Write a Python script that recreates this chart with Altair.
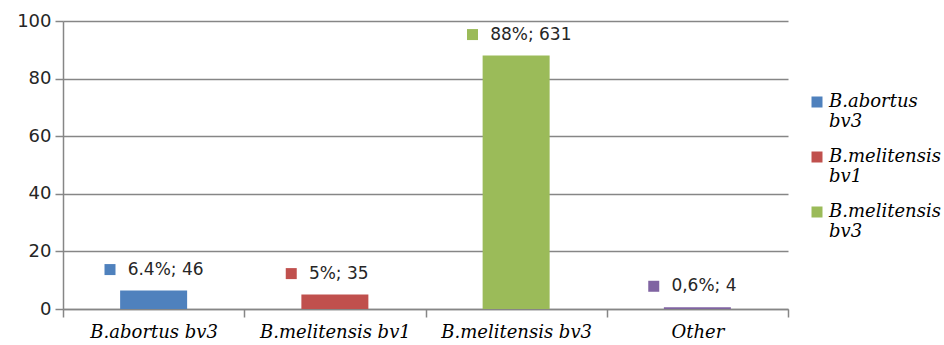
import altair as alt
import pandas as pd

categories = ["B.abortus bv3", "B.melitensis bv1", "B.melitensis bv3", "Other"]
values = [6.4, 5, 88, 0.6]
label_text = ["6.4%; 46", "5%; 35", "88%; 631", "0,6%; 4"]
colors = ["#4F81BD", "#C0504D", "#9BBB59", "#8064A2"]
y_ticks = [0, 20, 40, 60, 80, 100]

SERIF = "DejaVu Serif"

df = pd.DataFrame({"category": categories, "value": values, "label": label_text})

x_enc = alt.X("category:N", sort=categories,
              scale=alt.Scale(paddingInner=0, paddingOuter=0),
              axis=alt.Axis(title=None, labelAngle=0, tickBand="extent",
                            labelFont=SERIF, labelFontStyle="italic",
                            labelFontSize=18, labelColor="#000000", labelPadding=6,
                            tickSize=8, tickColor="#868686", domainColor="#868686",
                            domainWidth=1.5, tickWidth=1.5, grid=False))
y_enc = alt.Y("value:Q", scale=alt.Scale(domain=[0, 100], nice=False),
              axis=alt.Axis(title=None, values=y_ticks, labelFont="DejaVu Sans",
                            labelFontSize=18, labelColor="#262626", tickSize=8,
                            labelPadding=4, tickColor="#868686", domainColor="#868686",
                            domainWidth=1.5, tickWidth=1.5, gridColor="#868686",
                            gridWidth=1.5))
color_enc = alt.Color("category:N", sort=categories,
                      scale=alt.Scale(domain=categories, range=colors),
                      legend=alt.Legend(title=None, values=categories[:3],
                                        orient="none", legendX=745, legendY=72,
                                        symbolType="square", symbolSize=121,
                                        symbolStrokeWidth=0,
                                        labelFont=SERIF,
                                        labelFontStyle="italic", labelFontSize=18,
                                        labelColor="#000000", labelOffset=3,
                                        labelExpr="split(datum.label, ' ')",
                                        rowPadding=17, labelLimit=200, padding=0))

base = alt.Chart(df)
bars = base.mark_bar(size=67).encode(x=x_enc, y=y_enc, color=color_enc)
keys = base.mark_square(size=121, opacity=1).encode(
    x=x_enc, y=y_enc, color=color_enc,
    xOffset=alt.value(47), yOffset=alt.value(-21))
texts = base.mark_text(align="left", baseline="middle", dx=-26, dy=-21,
                       font="DejaVu Sans", fontSize=17, color="#262626").encode(
    x=x_enc, y=y_enc, text="label:N")

chart = alt.layer(bars, keys, texts).properties(
    width=725, height=288,
    padding={"left": 63, "top": 21, "right": 156, "bottom": 36},
    autosize=alt.AutoSizeParams(type="none"),
    background="white",
).configure_view(stroke=None)

chart.save("out.html", embed_options={"renderer": "svg", "actions": False})
